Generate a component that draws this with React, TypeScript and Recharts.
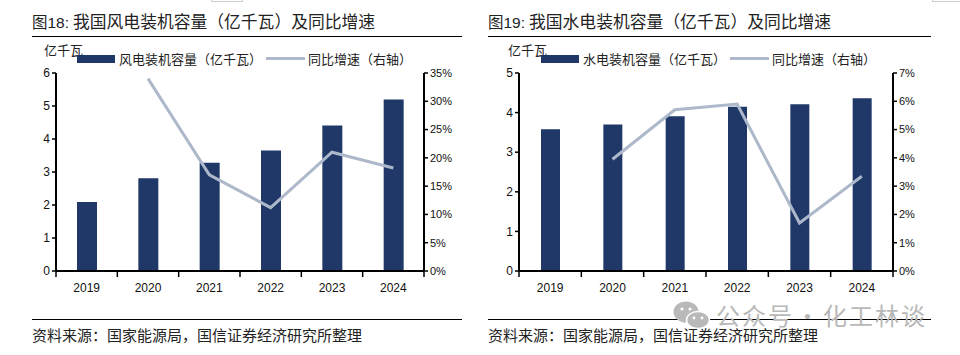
import { Bar, ComposedChart, Legend, Line, XAxis, YAxis } from "recharts";

const FONT = '"Liberation Sans", "Noto Sans CJK SC", sans-serif';
const BAR_COLOR = "#1f3868";
const LINE_COLOR = "#adb9ca";

// full-width punctuation
const LP = "\uFF08";
const RP = "\uFF09";
const COLON = "\uFF1A";
const COMMA = "\uFF0C";

const years = ["2019", "2020", "2021", "2022", "2023", "2024"];

const windCapacity = [2.09, 2.81, 3.28, 3.65, 4.41, 5.2];
const windGrowth = [null, 34, 17, 11.2, 21, 18.2];
const windLeftTicks = [0, 1, 2, 3, 4, 5, 6];
const windRightTicks = [0, 5, 10, 15, 20, 25, 30, 35];

const hydroCapacity = [3.58, 3.7, 3.91, 4.15, 4.21, 4.36];
const hydroGrowth = [null, 3.95, 5.7, 5.9, 1.7, 3.35];
const hydroLeftTicks = [0, 1, 2, 3, 4, 5];
const hydroRightTicks = [0, 1, 2, 3, 4, 5, 6, 7];

const sourceText = `资料来源${COLON}国家能源局${COMMA}国信证券经济研究所整理`;
const growthName = `同比增速${LP}右轴${RP}`;

function YearTick({ x, y, payload, index, band }: any) {
  const last = index === years.length - 1;
  return (
    <g>
      <line x1={x - band / 2} x2={x - band / 2} y1={y - 8} y2={y - 2} stroke="#000" strokeWidth={1.5} />
      {last && <line x1={x + band / 2} x2={x + band / 2} y1={y - 8} y2={y - 2} stroke="#000" strokeWidth={1.5} />}
      <text x={x} y={y + 13} textAnchor="middle" fontSize={12} fill="#111" fontFamily={FONT}>
        {payload.value}
      </text>
    </g>
  );
}

function Legendish({ barName, barX, barTextX, lineX, lineTextX }: any) {
  const text = { position: "absolute", top: 0, fontSize: 13, lineHeight: "20px", color: "#222", whiteSpace: "nowrap" } as const;
  return (
    <div style={{ position: "relative", height: 0, fontFamily: FONT }}>
      <span style={{ position: "absolute", left: barX, top: 5, width: 38, height: 8, background: BAR_COLOR }} />
      <span style={{ ...text, left: barTextX }}>{barName}</span>
      <span style={{ position: "absolute", left: lineX, top: 7, width: 39, height: 3, background: LINE_COLOR }} />
      <span style={{ ...text, left: lineTextX }}>{growthName}</span>
    </div>
  );
}

function Panel(props: any) {
  const { left, width, plotLeft, plotRight, figure, title, ruleLeft, ruleRight, unitX, capacity, growth, leftTicks, rightTicks, rightMax, barSize, legend } = props;
  const data = years.map((year, i) => ({ year, capacity: capacity[i], growth: growth[i] }));
  const axisWidth = 36;
  const band = (plotRight - plotLeft) / years.length;
  const axisTick = { fontSize: 12, fill: "#111", fontFamily: FONT };
  return (
    <div style={{ position: "absolute", left, top: 0, width, height: 355 }}>
      <div style={{ position: "absolute", left: ruleLeft, top: 12, fontSize: 16.8, lineHeight: "22px", color: "#222", whiteSpace: "nowrap" }}>
        <span style={{ display: "inline-block", width: 41, fontSize: 15.5 }}>{figure}</span>
        {title}
      </div>
      <div style={{ position: "absolute", left: ruleLeft, width: ruleRight - ruleLeft, top: 36, height: 1, background: "#000" }} />
      <div style={{ position: "absolute", left: ruleLeft, width: ruleRight - ruleLeft, top: 319, height: 1, background: "#000" }} />
      <div style={{ position: "absolute", left: ruleLeft, top: 327, fontSize: 15, lineHeight: "17px", color: "#222", whiteSpace: "nowrap" }}>
        {sourceText}
      </div>
      <div style={{ position: "absolute", left: unitX, top: 42, fontSize: 13, lineHeight: "18px", color: "#222" }}>亿千瓦</div>
      <div style={{ position: "absolute", left: 0, top: 0 }}>
        <ComposedChart
          width={width}
          height={355}
          data={data}
          margin={{ top: 73, bottom: 64, left: plotLeft - axisWidth, right: width - plotRight - axisWidth }}
        >
          <XAxis
            dataKey="year"
            height={20}
            interval={0}
            axisLine={{ stroke: "#000", strokeWidth: 2 }}
            tickLine={false}
            tick={<YearTick band={band} />}
          />
          <YAxis
            yAxisId="left"
            width={axisWidth}
            domain={[0, leftTicks[leftTicks.length - 1]]}
            ticks={leftTicks}
            tickSize={4}
            axisLine={{ stroke: "#000", strokeWidth: 2 }}
            tickLine={{ stroke: "#000", strokeWidth: 1.5 }}
            tick={axisTick}
          />
          <YAxis
            yAxisId="right"
            orientation="right"
            width={axisWidth}
            domain={[0, rightMax]}
            ticks={rightTicks}
            tickSize={4}
            tickFormatter={(v: number) => `${v}%`}
            axisLine={{ stroke: "#000", strokeWidth: 2 }}
            tickLine={{ stroke: "#000", strokeWidth: 1.5 }}
            tick={{ ...axisTick, fontSize: 11 }}
          />
          <Legend
            verticalAlign="top"
            wrapperStyle={{ left: 0, top: 50, width, height: 0 }}
            content={() => <Legendish {...legend} />}
          />
          <Bar yAxisId="left" dataKey="capacity" fill={BAR_COLOR} barSize={barSize} isAnimationActive={false} />
          <Line
            yAxisId="right"
            dataKey="growth"
            stroke={LINE_COLOR}
            strokeWidth={3}
            dot={false}
            connectNulls={false}
            isAnimationActive={false}
          />
        </ComposedChart>
      </div>
    </div>
  );
}

export default function App() {
  return (
    <div style={{ position: "absolute", left: 0, top: 0, width: 960, height: 355, background: "#fff", overflow: "hidden", fontFamily: FONT }}>
      <Panel
        left={0}
        width={480}
        plotLeft={56}
        plotRight={424}
        ruleLeft={32}
        ruleRight={462}
        unitX={44}
        figure="图18:"
        title={`我国风电装机容量${LP}亿千瓦${RP}及同比增速`}
        capacity={windCapacity}
        growth={windGrowth}
        leftTicks={windLeftTicks}
        rightTicks={windRightTicks}
        rightMax={35}
        barSize={20}
        legend={{ barName: `风电装机容量${LP}亿千瓦${RP}`, barX: 77, barTextX: 119, lineX: 266, lineTextX: 308 }}
      />
      <Panel
        left={480}
        width={480}
        plotLeft={39}
        plotRight={413}
        ruleLeft={8}
        ruleRight={451}
        unitX={28}
        figure="图19:"
        title={`我国水电装机容量${LP}亿千瓦${RP}及同比增速`}
        capacity={hydroCapacity}
        growth={hydroGrowth}
        leftTicks={hydroLeftTicks}
        rightTicks={hydroRightTicks}
        rightMax={7}
        barSize={19}
        legend={{ barName: `水电装机容量${LP}亿千瓦${RP}`, barX: 61, barTextX: 103, lineX: 250, lineTextX: 292 }}
      />
      <svg style={{ position: "absolute", left: 673, top: 301, overflow: "visible" }} width={38} height={28}>
        <ellipse cx={13} cy={11} rx={12.5} ry={10.5} fill="#b9b9b9" />
        <ellipse cx={25} cy={19} rx={11.5} ry={8.5} fill="#b9b9b9" stroke="#fff" strokeWidth={1.5} />
        <circle cx={9} cy={8} r={1.6} fill="#fff" />
        <circle cx={17} cy={8} r={1.6} fill="#fff" />
        <circle cx={21} cy={17} r={1.4} fill="#fff" />
        <circle cx={29} cy={17} r={1.4} fill="#fff" />
      </svg>
      <div style={{ position: "absolute", left: 716, top: 304, fontSize: 24, lineHeight: "22px", letterSpacing: 2, color: "#b8b8b8", whiteSpace: "nowrap", fontFamily: '"Noto Sans CJK SC", sans-serif' }}>
        公众号<span style={{ margin: "0 1.5px" }}>·</span>化工林谈
      </div>
      <div style={{ position: "absolute", left: 211, top: -1, width: 32, height: 3, border: "1px solid #ccc", boxSizing: "border-box" }} />
      <div style={{ position: "absolute", left: 932, top: -1, width: 30, height: 3, border: "1px solid #ccc", boxSizing: "border-box" }} />
    </div>
  );
}
